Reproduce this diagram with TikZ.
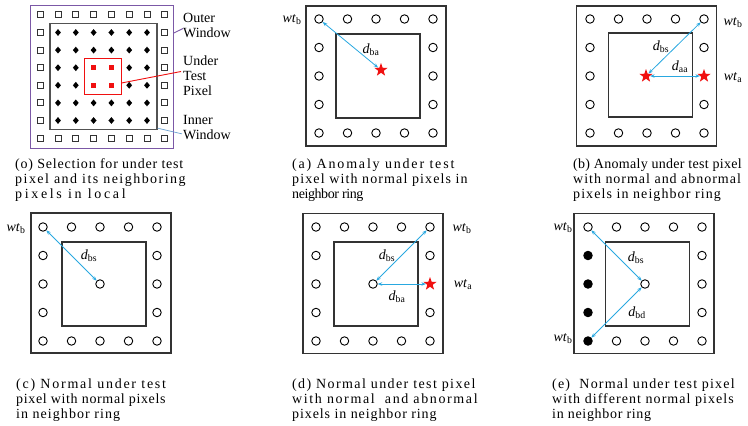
\documentclass[tikz,border=0pt]{standalone}
\usepackage{fontspec}
\setmainfont{Liberation Serif}
\usetikzlibrary{shapes.geometric,arrows.meta,positioning}
% letter spaced caption line
\newcommand{\lsline}[2]{{\addfontfeatures{LetterSpace=#1}#2}}

\begin{document}
\begin{tikzpicture}[x=1pt,y=-1pt,>={Stealth[length=4.5pt,width=3.5pt]},
    font=\fontsize{14}{15}\selectfont]
  %--- Theme colors ---
  \definecolor{LinkBlue}{HTML}{29A8E0}    % distance arrows
  \definecolor{StarRed}{HTML}{F01010}     % abnormal pixels
  \definecolor{FrameGray}{HTML}{333333}   % window frames
  \definecolor{OuterPurple}{HTML}{7B58A6} % outer window of (o)
  \definecolor{InnerBlue}{HTML}{6A9FD0}   % pointer to inner window

  \tikzset{
    ringpx/.style={circle,draw,line width=0.9pt,minimum size=8.5,inner sep=0},
    fullpx/.style={ringpx,fill=black},
    badpx/.style={star,star points=5,star point ratio=2.5,fill=StarRed,
      minimum size=14,inner sep=0},
    winbox/.style={draw=FrameGray,line width=1.1pt,inner sep=0},
    dist/.style={<->,LinkBlue,line width=0.8pt},
    lbl/.style={inner sep=0},
    caption/.style={anchor=base west,align=left,inner sep=0},
    sqpx/.style={rectangle,draw=FrameGray,line width=1pt,minimum size=6,inner sep=0},
    dmpx/.style={diamond,fill=black,minimum width=6,minimum height=7,inner sep=0},
    tpx/.style={rectangle,fill=StarRed,minimum size=5,inner sep=0}
  }

  \useasboundingbox (0,0) rectangle (748,426);

  %--- (o) selection window ---
  \begin{scope}[shift={(102.5,76.5)}]
    \node[draw=OuterPurple,line width=0.9pt,minimum size=143,inner sep=0] (o-owin) at (-1,0) {};
    \node[draw=FrameGray!85,line width=1.4pt,minimum width=107,minimum height=106,inner sep=0]
      (o-iwin) at (1,0) {};
    \node[draw=StarRed,line width=0.9pt,minimum width=37,minimum height=36,inner sep=0]
      (o-test) at (0,-0.5) {};
    % outer ring of squares
    \foreach \i in {0,...,7} {
      \node[sqpx] (o-\i-0) at ({(\i-3.5)*17.8},{-3.5*17.6}) {};
      \node[sqpx] (o-\i-7) at ({(\i-3.5)*17.8},{3.5*17.6}) {};
    }
    \foreach \j in {1,...,6} {
      \node[sqpx] (o-0-\j) at ({-3.5*17.8},{(\j-3.5)*17.6}) {};
      \node[sqpx] (o-7-\j) at ({3.5*17.8},{(\j-3.5)*17.6}) {};
    }
    % inner window
    \foreach \j in {1,2,5,6}
      \foreach \i in {1,...,6}
        \node[dmpx] (o-\i-\j) at ({(\i-3.5)*17.8},{(\j-3.5)*17.6}) {};
    \foreach \j in {3,4} {
      \foreach \i in {1,2,5,6}
        \node[dmpx] (o-\i-\j) at ({(\i-3.5)*17.8},{(\j-3.5)*17.6}) {};
      \foreach \i in {3,4}
        \node[tpx] (o-\i-\j) at ({(\i-3.5)*17.8},{(\j-3.5)*17.6}) {};
    }
    % labels
    \node[lbl,anchor=west,align=left] (o-olbl) at (80.5,-51) {Outer\\Window};
    \node[lbl,anchor=west,align=left] (o-utp) at (80.5,-0.5) {Under\\Test\\Pixel};
    \node[lbl,anchor=west,align=left] (o-ilbl) at (80.5,51) {Inner\\Window};
    \draw[OuterPurple,line width=0.9pt] (o-owin.31) -- ([yshift=-3pt]o-olbl.west);
    \draw[StarRed,line width=0.9pt] ([yshift=-7pt]o-test.east) -- ([xshift=-2pt,yshift=4.5pt]o-utp.west);
    \draw[InnerBlue,line width=0.7pt] ([yshift=2pt]o-iwin.south east) -- ([xshift=-1pt,yshift=6pt]o-ilbl.south west);
  \end{scope}
  \node[caption] (o-cap) at (15,198) {\lsline{5.6}{(o) Selection for under test}\\
    \lsline{10.5}{pixel and its neighboring}\\\lsline{19}{pixels in local}};

  %--- (a) anomaly with normal ring ---
  \begin{scope}[shift={(376,76)}]
    \node[winbox,minimum size=140] (a-out) at (0,0) {};
    \node[winbox,minimum size=84] (a-in) at (2,0) {};
    \foreach \i in {0,...,4} {
      \node[ringpx] (a-\i-0) at (\i*28.5-57,-57) {};
      \node[ringpx] (a-\i-4) at (\i*28.5-57,57) {};
    }
    \foreach \j in {1,2,3} {
      \node[ringpx] (a-0-\j) at (-57,\j*28.5-57) {};
      \node[ringpx] (a-4-\j) at (57,\j*28.5-57) {};
    }
    \node[badpx] (a-c) at (5,-6) {};
    \draw[dist] (a-0-0) -- (a-c);
    \node[lbl] (a-dba) at (-5,-26) {\textit{d}\textsubscript{ba}};
    \node[lbl] (a-wtb) at (-84,-56) {\textit{wt}\textsubscript{b}};
  \end{scope}
  \node[caption] (a-cap) at (292,198) {\lsline{13}{(a) Anomaly under test}\\
    \lsline{8}{pixel with normal pixels in}\\\lsline{-3}{neighbor ring}};

  %--- (b) anomaly with mixed ring ---
  \begin{scope}[shift={(647,76)}]
    \node[winbox,minimum size=140] (b-out) at (-0.5,0) {};
    \node[winbox,minimum size=84] (b-in) at (3.5,-1) {};
    \foreach \i in {0,...,4} {
      \node[ringpx] (b-\i-0) at (\i*28.5-57,-57) {};
      \node[ringpx] (b-\i-4) at (\i*28.5-57,57) {};
    }
    \foreach \j in {1,2,3}
      \node[ringpx] (b-0-\j) at (-57,\j*28.5-57) {};
    \foreach \j in {1,3}
      \node[ringpx] (b-4-\j) at (57,\j*28.5-57) {};
    \node[badpx] (b-4-2) at (57,0) {};
    \node[badpx] (b-c) at (-1,0) {};
    \draw[dist] (b-c) -- (b-4-0);
    \draw[dist] (b-c) -- (b-4-2);
    \node[lbl] (b-dbs) at (14,-29) {\textit{d}\textsubscript{bs}};
    \node[lbl] (b-daa) at (33,-9) {\textit{d}\textsubscript{aa}};
    \node[lbl] (b-wtb) at (86,-53) {\textit{wt}\textsubscript{b}};
    \node[lbl] (b-wta) at (86,2) {\textit{wt}\textsubscript{a}};
  \end{scope}
  \node[caption] (b-cap) at (573,198) {\lsline{2.1}{(b) Anomaly under test pixel}\\
    \lsline{7}{with normal and abnormal}\\\lsline{7.7}{pixels in neighbor ring}};

  %--- (c) normal with normal ring ---
  \begin{scope}[shift={(100,284)}]
    \node[winbox,minimum size=140] (c-out) at (1,-1) {};
    \node[winbox,minimum size=84] (c-in) at (4,0) {};
    \foreach \i in {0,...,4} {
      \node[ringpx] (c-\i-0) at (\i*28.5-57,-57) {};
      \node[ringpx] (c-\i-4) at (\i*28.5-57,57) {};
    }
    \foreach \j in {1,2,3} {
      \node[ringpx] (c-0-\j) at (-57,\j*28.5-57) {};
      \node[ringpx] (c-4-\j) at (57,\j*28.5-57) {};
    }
    \node[ringpx] (c-c) at (0,0) {};
    \draw[dist] (c-0-0) -- (c-c);
    \node[lbl] (c-dbs) at (-11,-28) {\textit{d}\textsubscript{bs}};
    \node[lbl] (c-wtb) at (-84,-55) {\textit{wt}\textsubscript{b}};
  \end{scope}
  \node[caption] (c-cap) at (16,418) {\lsline{12.5}{(c) Normal under test}\\
    \lsline{4.6}{pixel with normal pixels}\\\lsline{7.5}{in neighbor ring}};

  %--- (d) normal with mixed ring ---
  \begin{scope}[shift={(373,284)}]
    \node[winbox,minimum size=140] (d-out) at (0,-0.5) {};
    \node[winbox,minimum size=84] (d-in) at (3,0) {};
    \foreach \i in {0,...,4} {
      \node[ringpx] (d-\i-0) at (\i*28.5-57,-57) {};
      \node[ringpx] (d-\i-4) at (\i*28.5-57,57) {};
    }
    \foreach \j in {1,2,3}
      \node[ringpx] (d-0-\j) at (-57,\j*28.5-57) {};
    \foreach \j in {1,3}
      \node[ringpx] (d-4-\j) at (57,\j*28.5-57) {};
    \node[badpx] (d-4-2) at (57,0) {};
    \node[ringpx] (d-c) at (0,0) {};
    \draw[dist] (d-c) -- (d-4-0);
    \draw[dist] (d-c) -- (d-4-2);
    \node[lbl] (d-dbs) at (14,-28) {\textit{d}\textsubscript{bs}};
    \node[lbl] (d-dba) at (24,13) {\textit{d}\textsubscript{ba}};
    \node[lbl] (d-wtb) at (89,-55) {\textit{wt}\textsubscript{b}};
    \node[lbl] (d-wta) at (90,1) {\textit{wt}\textsubscript{a}};
  \end{scope}
  \node[caption] (d-cap) at (292,418) {\lsline{10}{(d) Normal under test pixel}\\
    \lsline{11.5}{with normal\ \ and abnormal}\\\lsline{6.5}{pixels in neighbor ring}};

  %--- (e) normal with different normal ring ---
  \begin{scope}[shift={(645,284)}]
    \node[winbox,minimum size=140] (e-out) at (-1,-0.5) {};
    \node[winbox,minimum size=84] (e-in) at (2.5,0) {};
    \foreach \i in {0,...,4}
      \node[ringpx] (e-\i-0) at (\i*28.5-57,-57) {};
    \foreach \i in {1,...,4}
      \node[ringpx] (e-\i-4) at (\i*28.5-57,57) {};
    \foreach \j in {1,...,4}
      \node[fullpx] (e-0-\j) at (-57,\j*28.5-57) {};
    \foreach \j in {1,2,3}
      \node[ringpx] (e-4-\j) at (57,\j*28.5-57) {};
    \node[ringpx] (e-c) at (0,0) {};
    \draw[dist] (e-c) -- (e-0-0);
    \draw[dist] (e-c) -- (e-0-4);
    \node[lbl] (e-dbs) at (-9,-26) {\textit{d}\textsubscript{bs}};
    \node[lbl] (e-dbd) at (-8,29) {\textit{d}\textsubscript{bd}};
    \node[lbl] (e-wtb1) at (-82,-56) {\textit{wt}\textsubscript{b}};
    \node[lbl] (e-wtb2) at (-82,55) {\textit{wt}\textsubscript{b}};
  \end{scope}
  \node[caption] (e-cap) at (552,418) {\lsline{8.5}{(e)\ \ Normal under test pixel}\\
    \lsline{7.5}{with different normal pixels}\\\lsline{4.8}{in neighbor ring}};
\end{tikzpicture}
\end{document}
